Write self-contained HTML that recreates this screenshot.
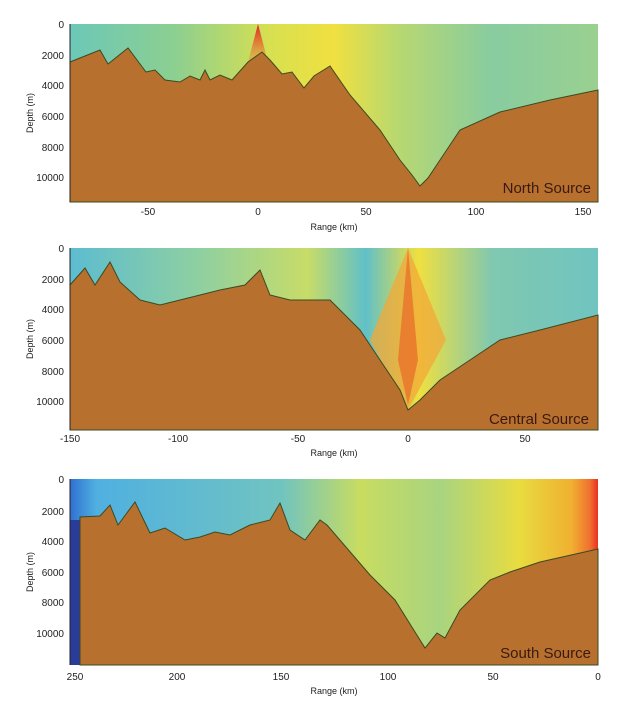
<!DOCTYPE html>
<html><head><meta charset="utf-8"><style>
html,body{margin:0;padding:0;background:#fff;width:630px;height:714px;overflow:hidden}
text{font-family:"Liberation Sans",sans-serif}
</style></head><body>
<svg width="630" height="714" viewBox="0 0 630 714" xmlns="http://www.w3.org/2000/svg">
<defs>
<linearGradient id="w1" x1="0" x2="1" y1="0" y2="0">
<stop offset="0" stop-color="#6cc8b8"/><stop offset="0.2" stop-color="#8ccf90"/><stop offset="0.38" stop-color="#d8e050"/><stop offset="0.5" stop-color="#f0e040"/><stop offset="0.62" stop-color="#b8d870"/><stop offset="0.8" stop-color="#88cca0"/><stop offset="1" stop-color="#9ad090"/>
</linearGradient>
<linearGradient id="w2" x1="0" x2="1" y1="0" y2="0">
<stop offset="0" stop-color="#5cbcd0"/><stop offset="0.25" stop-color="#90d0a0"/><stop offset="0.45" stop-color="#c8dc68"/><stop offset="0.56" stop-color="#60c0c8"/><stop offset="0.66" stop-color="#f0e040"/><stop offset="0.8" stop-color="#80c8b0"/><stop offset="1" stop-color="#70c4c0"/>
</linearGradient>
<linearGradient id="w3" x1="0" x2="1" y1="0" y2="0">
<stop offset="0" stop-color="#3070d0"/><stop offset="0.05" stop-color="#50b0e0"/><stop offset="0.4" stop-color="#70c4c0"/><stop offset="0.55" stop-color="#c8dc60"/><stop offset="0.7" stop-color="#a8d480"/><stop offset="0.85" stop-color="#e8dc40"/><stop offset="0.95" stop-color="#f0b030"/><stop offset="0.985" stop-color="#f07030"/><stop offset="1" stop-color="#e83020"/>
</linearGradient>
<linearGradient id="cone" x1="0" x2="0" y1="0" y2="1">
<stop offset="0" stop-color="#e02020"/><stop offset="1" stop-color="#f08030" stop-opacity="0.3"/>
</linearGradient>
</defs>
<!-- Panel 1 -->
<rect x="70" y="24" width="528" height="178" fill="url(#w1)"/>
<polygon points="258,24 248,62 268,62" fill="url(#cone)"/>
<polygon points="70,202 70,62 95,52 100,50 108,64 128,48 146,72 155,70 165,80 180,82 190,76 200,80 205,70 210,80 220,75 232,80 248,62 262,52 270,60 282,74 292,72 304,88 314,76 330,66 350,95 380,130 400,160 412,175 420,186 428,178 440,160 460,130 500,112 550,100 598,90 598,202" fill="#b8702e" stroke="#3a4a20" stroke-width="1"/>
<!-- Panel 2 -->
<rect x="70" y="248" width="528" height="182" fill="url(#w2)"/>
<polygon points="408,248 370,340 408,410 446,340" fill="#f2a838" opacity="0.75"/>
<polygon points="408,248 398,360 408,405 418,360" fill="#e86a28" opacity="0.7"/>
<polygon points="70,430 70,285 85,268 95,285 110,262 120,282 140,300 160,305 180,300 200,295 220,290 245,285 260,270 270,295 290,300 330,300 360,330 380,360 400,390 408,410 420,400 440,380 470,360 500,340 540,330 598,315 598,430" fill="#b8702e" stroke="#3a4a20" stroke-width="1"/>
<!-- Panel 3 -->
<rect x="70" y="479" width="528" height="186" fill="url(#w3)"/>
<rect x="70" y="520" width="10" height="145" fill="#2a3c9a"/>
<polygon points="80,665 80,517 100,516 110,505 118,525 135,502 150,533 165,528 185,540 200,537 215,532 230,535 250,525 270,520 280,503 290,530 305,540 320,520 327,525 370,575 395,600 425,648 437,633 445,638 460,610 490,580 510,572 540,562 598,549 598,665" fill="#b8702e" stroke="#3a4a20" stroke-width="1"/>
<g stroke="#222" stroke-width="1">
<line x1="70" y1="24" x2="70" y2="202"/><line x1="70" y1="248" x2="70" y2="430"/><line x1="70" y1="479" x2="70" y2="665"/>
</g>
<g font-size="10" fill="#222" text-anchor="end">
<text x="64" y="28">0</text><text x="64" y="59">2000</text><text x="64" y="89">4000</text><text x="64" y="120">6000</text><text x="64" y="151">8000</text><text x="64" y="181">10000</text>
<text x="64" y="252">0</text><text x="64" y="283">2000</text><text x="64" y="313">4000</text><text x="64" y="344">6000</text><text x="64" y="375">8000</text><text x="64" y="405">10000</text>
<text x="64" y="483">0</text><text x="64" y="515">2000</text><text x="64" y="545">4000</text><text x="64" y="576">6000</text><text x="64" y="606">8000</text><text x="64" y="637">10000</text>
</g>
<g font-size="10" fill="#222" text-anchor="middle">
<text x="148" y="215">-50</text><text x="258" y="215">0</text><text x="366" y="215">50</text><text x="476" y="215">100</text><text x="583" y="215">150</text>
<text x="70" y="442">-150</text><text x="178" y="442">-100</text><text x="298" y="442">-50</text><text x="408" y="442">0</text><text x="525" y="442">50</text>
<text x="75" y="680">250</text><text x="177" y="680">200</text><text x="281" y="680">150</text><text x="388" y="680">100</text><text x="493" y="680">50</text><text x="598" y="680">0</text>
<text x="334" y="230" font-size="9">Range (km)</text>
<text x="334" y="456" font-size="9">Range (km)</text>
<text x="334" y="694" font-size="9">Range (km)</text>
<text transform="translate(33,113) rotate(-90)" font-size="9">Depth (m)</text>
<text transform="translate(33,339) rotate(-90)" font-size="9">Depth (m)</text>
<text transform="translate(33,572) rotate(-90)" font-size="9">Depth (m)</text>
</g>
<g font-size="15" fill="#3a1a10" text-anchor="end">
<text x="591" y="193">North Source</text>
<text x="589" y="424">Central Source</text>
<text x="591" y="658">South Source</text>
</g>
</svg>
</body></html>
